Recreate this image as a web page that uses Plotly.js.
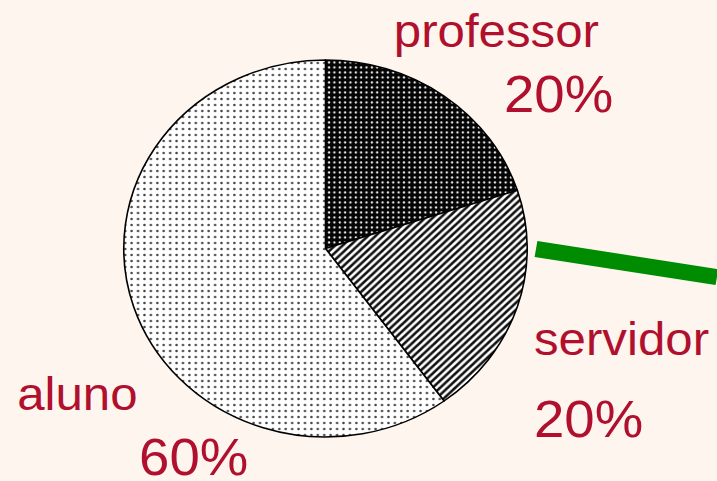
<!DOCTYPE html>
<html>
<head>
<meta charset="utf-8">
<script src="https://cdn.plot.ly/plotly-3.0.1.min.js"></script>
<style>
html,body{margin:0;padding:0;background:#FDF5EE;overflow:hidden;}
#chart{width:670px;height:481px;transform:scaleX(1.0701);transform-origin:0 0;}
</style>
</head>
<body>
<div id="chart"></div>
<script>
const categories = ["professor", "servidor", "aluno"];
const percents = [20, 20, 60];
const percentLabels = ["20%", "20%", "60%"];

const textColor = "#B0102E";
const SX = 1.0701;           // the reference is stretched horizontally
const W = 670, H = 481;      // drawing size before the stretch
const cx = 325.5 / SX, cy = 248.5, R = 188.5;

const trace = {
  type: "pie",
  labels: categories,
  values: percents,
  sort: false,
  direction: "clockwise",
  rotation: 0,
  textinfo: "none",
  hoverinfo: "label+percent",
  showlegend: false,
  domain: {
    x: [(cx - R) / W, (cx + R) / W],
    y: [(H - cy - R) / H, (H - cy + R) / H]
  },
  marker: {
    colors: ["#111111", "#ffffff", "#ffffff"],
    line: {color: "#000000", width: 1.5},
    pattern: {
      shape: [".", "/", "."],
      fillmode: "replace",
      bgcolor: ["#050505", "#ffffff", "#ffffff"],
      fgcolor: ["#e8e8e8", "#111111", "#444444"],
      size: [5, 5, 6],
      solidity: [0.16, 0.5, 0.12]
    }
  }
};

// label positions (left x, baseline y in reference pixels) and font sizes
const labelPos = [[392, 47], [532, 355], [15, 410]];
const pctPos = [[502, 112], [532, 437], [137, 475]];
const labelSize = 46, pctSize = 51;

const annotations = [];
categories.forEach((c, i) => {
  annotations.push({
    text: c, xref: "paper", yref: "paper",
    x: labelPos[i][0] / SX / W, y: 1 - (labelPos[i][1] - 0.35 * labelSize) / H,
    xanchor: "left", yanchor: "middle", showarrow: false,
    font: {family: "Liberation Sans, Arial, sans-serif", size: labelSize, color: textColor}
  });
  annotations.push({
    text: percentLabels[i], xref: "paper", yref: "paper",
    x: pctPos[i][0] / SX / W, y: 1 - (pctPos[i][1] - 0.35 * pctSize) / H,
    xanchor: "left", yanchor: "middle", showarrow: false,
    font: {family: "Liberation Sans, Arial, sans-serif", size: pctSize, color: textColor}
  });
});

const layout = {
  width: W, height: H,
  margin: {l: 0, r: 0, t: 0, b: 0},
  paper_bgcolor: "#FDF5EE",
  plot_bgcolor: "#FDF5EE",
  annotations: annotations,
  shapes: [{
    type: "line", xref: "paper", yref: "paper",
    x0: 536 / SX / W, y0: 1 - 249 / H, x1: 1, y1: 1 - 277 / H,
    line: {color: "#008C00", width: 16}
  }]
};

Plotly.newPlot("chart", [trace], layout, {displayModeBar: false, staticPlot: true});
</script>
</body>
</html>
